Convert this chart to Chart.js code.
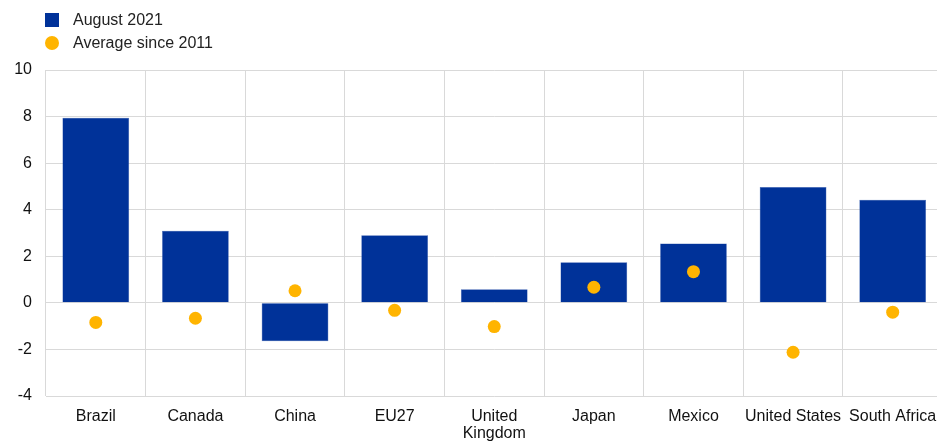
<!DOCTYPE html>
<html>
<head>
<meta charset="utf-8">
<script src="https://cdn.jsdelivr.net/npm/chart.js@4/dist/chart.umd.min.js"></script>
<style>
  html, body { margin: 0; padding: 0; background: #fff; overflow: hidden; }
  #wrap { position: relative; width: 937px; height: 441px; overflow: hidden; }
  #legend { position: absolute; left: 45px; top: 8px; font: 16px "Liberation Sans", Arial, sans-serif; color: #222; }
  .item { display: flex; align-items: center; height: 23px; }
  .sw { width: 14px; height: 14px; margin-right: 14px; }
</style>
</head>
<body>
<div id="wrap">
  <canvas id="chart" width="949" height="441"></canvas>
  <div id="legend">
    <div class="item"><span class="sw" style="background:#003299"></span>August 2021</div>
    <div class="item"><span class="sw" style="background:#ffb400;border-radius:50%"></span>Average since 2011</div>
  </div>
</div>
<script>
// categories and series
const countries = ['Brazil', 'Canada', 'China', 'EU27', ['United', 'Kingdom'], 'Japan', 'Mexico', 'United States', 'South Africa'];
const august2021 = [7.95, 3.1, -1.65, 2.9, 0.58, 1.74, 2.55, 4.98, 4.43];
const avgSince2011 = [-0.84, -0.66, 0.52, -0.32, -1.02, 0.67, 1.34, -2.12, -0.4];

const tickFont = { family: '"Liberation Sans", Arial, sans-serif', size: 16, lineHeight: 1.05 };

new Chart(document.getElementById('chart'), {
    type: 'bar',
    data: {
        labels: countries,
        datasets: [
            {
                type: 'line',
                label: 'Average since 2011',
                data: avgSince2011,
                showLine: false,
                pointRadius: 6.5,
                pointHoverRadius: 6.5,
                pointBackgroundColor: '#ffb400',
                pointBorderWidth: 0,
                order: 0
            },
            {
                label: 'August 2021',
                data: august2021,
                backgroundColor: '#003299',
                borderColor: '#3a5fb0',
                borderWidth: 0.5,
                categoryPercentage: 0.67,
                barPercentage: 1,
                order: 1
            }
        ]
    },
    options: {
        responsive: false,
        animation: false,
        layout: { padding: { top: 70, right: 0, left: 0, bottom: 0 } },
        plugins: { legend: { display: false }, tooltip: { enabled: false } },
        scales: {
            x: {
                grid: { color: '#d9d9d9', drawTicks: false, offset: true },
                border: { display: false },
                ticks: { color: '#111', font: tickFont, padding: 12, maxRotation: 0, autoSkip: false },
                afterFit: s => { s.height = 45; }
            },
            y: {
                min: -4,
                max: 10,
                grid: { color: '#d9d9d9', drawTicks: false },
                border: { display: false },
                ticks: { stepSize: 2, color: '#111', font: tickFont, padding: 14 },
                afterFit: s => { s.width = 46; }
            }
        }
    }
});
</script>
</body>
</html>
